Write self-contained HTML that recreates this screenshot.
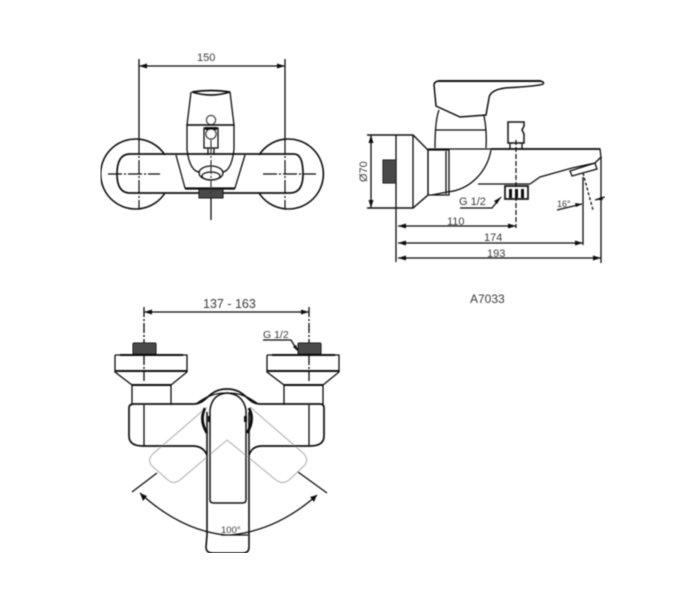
<!DOCTYPE html>
<html><head><meta charset="utf-8"><style>
html,body{margin:0;padding:0;background:#fff}
svg{display:block}
text{font-family:"Liberation Sans",sans-serif;fill:#3a3a3a}
.l{fill:none;stroke:#111;stroke-width:1.3}
.t{fill:none;stroke:#111;stroke-width:2}
.c{fill:none;stroke:#111;stroke-width:1.2;stroke-dasharray:14 2 2 2}
.g{fill:none;stroke:#bbb;stroke-width:1.2}
.d{fill:#4a4a4a;stroke:#111;stroke-width:1}
.a{fill:#111;stroke:none}
</style></head><body>
<svg width="700" height="600" viewBox="0 0 700 600" xmlns="http://www.w3.org/2000/svg">
<defs><filter id="b" x="0" y="0" width="100%" height="100%"><feGaussianBlur stdDeviation="0.4"/></filter></defs>
<rect width="700" height="600" fill="#fff"/>
<g filter="url(#b)">
<!-- top-left view -->
<path class="l" d="M139 59V140M285 59V140M139 66H285"/>
<path class="a" d="M139 66l8-2.500v5zM285 66l-8-2.500v5z"/>
<path class="l" style="stroke-width:1.6" d="M165 155A35 35 0 1 0 165 193M259 155A35 35 0 1 1 259 193"/>
<path class="t" d="M130 154H294Q303 154 303 174Q303 193 290 193H130Q117 193 117 174Q117 154 130 154Z" style="stroke-width:1.7"/>
<path class="c" d="M139 140V208M285 140V208M108 174H160M263 174H316"/>
<path class="l" d="M176 155L185 188H235L245 155"/>
<path class="l" d="M191 92L187 125H234L230 92"/>
<path class="t" d="M192 92Q211 98 230 92Q211 89 192 92Z" style="stroke-width:1.7"/>
<path class="t" d="M187 125H234" style="stroke-width:1.6"/>
<path class="l" d="M187 125V150Q190 172 200 172M234 125V150Q231 172 222 172"/>
<ellipse class="l" cx="211" cy="173" rx="12" ry="7"/>
<ellipse class="l" cx="211" cy="176" rx="9" ry="4"/>
<rect class="l" x="204" y="128" width="14" height="20"/>
<path class="l" d="M208 148V155M214 148V155"/>
<circle cx="211" cy="120" r="4.500" fill="#fff" stroke="#111" stroke-width="1.2"/>
<circle cx="211" cy="134" r="5" fill="#fff" stroke="#111" stroke-width="1.2"/>
<path class="a" d="M205 127h12v3h-12z"/>
<rect class="d" x="199" y="189" width="24" height="9"/>
<path class="l" d="M185 189H235"/>
<path class="l" d="M211 198V220"/>
<path class="c" d="M211 140V198" style="stroke:#333"/>
<text x="197" y="61" font-size="11">150</text>

<!-- top-right view -->
<path class="l" d="M436 106L434 85Q434 81 440 81H540Q545 82 543 84Q540 86 505 88Q490 90 489 98L486 115L460 117Z" style="stroke-width:1.5"/>
<path class="t" d="M438 81H541"/>
<path class="l" d="M439 110Q435 120 435 148M484 116Q487 130 486 148M435 130H486"/>
<path class="l" d="M367 135H413L428 150V195L413 208H367" style="stroke-width:1.4"/>
<path class="l" d="M396 135V262M413 135V208"/>
<rect x="383" y="160" width="13" height="23" class="d"/>
<path class="l" d="M428 150H449V195H428M449 150V195"/>
<path class="l" d="M446 151V194"/>
<path class="l" d="M428 149H600L601 157L595 163L572 168L540 177L530 184H478"/>
<path class="t" d="M491 149H600" style="stroke-width:1.7"/>
<path class="l" d="M491 150C487 172 470 190 447 192L432 195"/>
<path class="l" d="M570 171L595 163L597 169L572 176Z"/>
<path class="l" d="M524 122H508V143H524V134L522 130L524 126Z" style="stroke-width:1.5"/>
<path class="l" d="M510 143V149M522 143V149"/>
<rect x="505" y="186" width="23" height="13" class="l" style="stroke-width:1.7"/>
<path class="a" d="M509 189h3v9h-3zM515 189h3v9h-3zM521 189h3v9h-3z"/>
<path class="l" d="M371 135V208"/>
<path class="a" d="M371 135l-2.500 8h5zM371 208l-2.500-8h5z"/>
<path class="c" d="M516 140V228" style="stroke-dasharray:5 2"/>
<path class="l" d="M398 226H516M398 243H583M398 258H601M601 157V263M583 177V245"/>
<path class="a" d="M398 226l8-2.500v5zM516 226l-8-2.500v5zM398 243l8-2.500v5zM583 243l-8-2.500v5zM398 258l8-2.500v5zM601 258l-8-2.500v5z"/>
<path class="l" d="M460 208H492L501 197M557 210L582 204M595 200L605 197"/>
<path class="a" d="M501 197l-7 4 3 3zM582 204l-7-1 1 4zM595 200l7 -3.500 1 3.500z"/>
<path class="l" d="M583 173L593 210" style="stroke-dasharray:3 2"/>
<text transform="translate(367 182) rotate(-90)" font-size="11">Ø70</text>
<text x="459" y="205" font-size="11">G 1/2</text>
<text x="447" y="225" font-size="11">110</text>
<text x="484" y="241" font-size="11">174</text>
<text x="487" y="257" font-size="11">193</text>
<text x="557" y="207" font-size="9">16°</text>
<text x="470" y="303" font-size="12">A7033</text>

<!-- bottom view -->
<path class="g" d="M207 407L155 452Q146 459 152 466L168 480Q173 485 180 480L227 440L276 480Q283 485 289 480L304 466Q310 459 302 452L250 407"/>
<path class="l" d="M144 307V382M309 307V382" style="stroke-dasharray:10 2 2 2"/>
<path class="l" d="M144 312H309"/>
<path class="a" d="M144 312l8-2.500v5zM309 312l-8-2.500v5z"/>
<rect x="133" y="343" width="23" height="11" rx="1" class="d"/>
<rect x="298" y="343" width="23" height="11" rx="1" class="d"/>
<path class="l" d="M115 355H187V372L171 385V405M132 405V385L115 372V355"/>
<path class="l" d="M267 355H339V372L323 385V405M284 405V385L267 372V355"/>
<path class="t" d="M120 355H183M115 371H187M272 355H335M267 371H339M132 385H171M284 385H323"/>
<path class="l" d="M129 408Q129 404 134 404H194C207 404 208 389 227 389C246 389 247 404 260 404H320Q324 404 324 408V436Q324 446 310 446H262Q252 446 249 455" style="stroke-width:1.7"/>
<path class="l" d="M129 408V436Q129 446 143 446H193Q203 446 207 455" style="stroke-width:1.7"/>
<path class="l" d="M144 405V446M309 405V446"/>
<path class="l" d="M196 404C208 395 216 393 227 393C238 393 246 395 258 404"/>
<path class="t" d="M205 408Q199 420 207 433M249 408Q255 420 247 433" style="stroke-width:2.800"/>
<path class="a" d="M208 416h2v6h-2zM244 416h3v6h-3z"/>
<path class="l" d="M210 410Q212 394 227 393Q243 394 246 410V500Q246 503 242 503H214Q210 503 210 500Z" style="stroke-width:1.5"/>
<path class="l" d="M207 412V535L206 547Q206 553 213 553H243Q249 553 249 547V412" style="stroke-width:1.6"/>
<path class="l" d="M140 493Q180 530 225 535M231 535Q278 530 317 495"/>
<path class="a" d="M140 493l3 8 4-5zM317 495l-7 2 4 5z"/>
<path class="l" d="M132 492L157 473M327 493L298 472M221 535H248"/>
<text x="203" y="308" font-size="12.500">137 - 163</text>
<text x="263" y="338" font-size="10.500">G 1/2</text>
<path class="l" d="M263 340H291L297 350"/>
<path class="a" d="M299 352l-6-5 3-2z"/>
<text x="221" y="533" font-size="9.500">100°</text>
</g>
</svg>
</body></html>
